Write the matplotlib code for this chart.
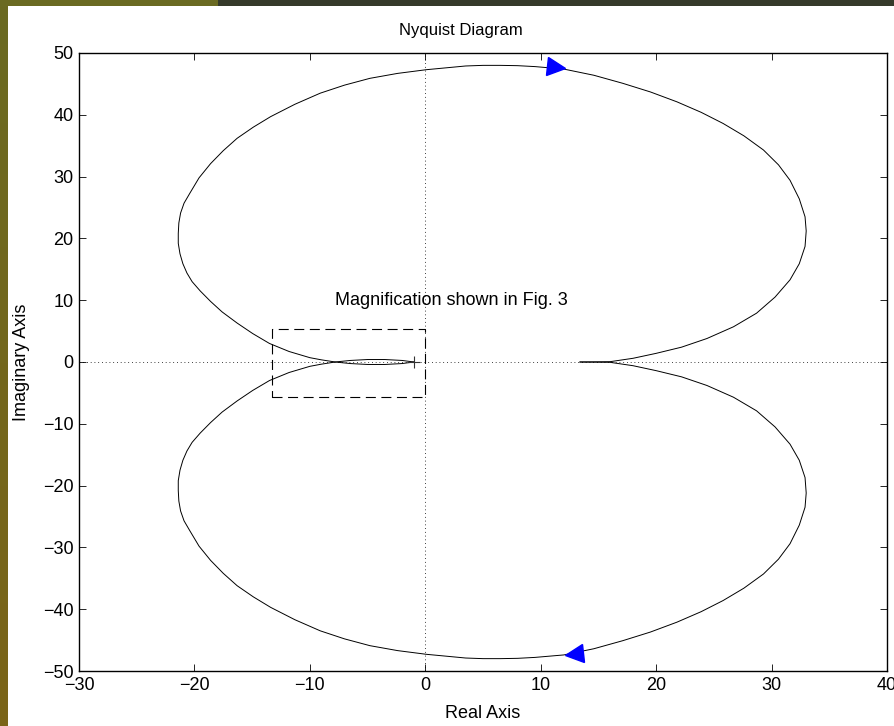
import matplotlib
matplotlib.use("Agg")
import matplotlib.pyplot as plt
from matplotlib.markers import MarkerStyle
from matplotlib.patches import Rectangle
from matplotlib.transforms import Affine2D
import numpy as np

plt.rcParams['font.family'] = ['Liberation Sans', 'DejaVu Sans']

# upper branch of the Nyquist curve, lower branch is its mirror
upper_re = [-1.0, -2.0, -3.5, -5.0, -6.5, -7.8,
            -9.0, -10.0, -11.8, -13.5, -14.95, -16.3, -17.6, -18.6, -19.5, -20.2,
            -20.65, -21.0, -21.25, -21.4, -21.4, -21.35, -21.2, -20.9, -20.4, -19.6,
            -18.6, -17.5, -16.3, -14.9, -13.4, -11.3, -9.1, -7.0, -4.8, -2.4, 0.1,
            1.8, 3.5, 5.0, 6.5, 8.0, 9.5, 12.0, 14.6, 17.1, 19.5, 21.8,
            23.9, 25.8, 27.6, 29.3, 30.6, 31.6, 32.4, 32.9, 33.0, 32.9, 32.4,
            31.6, 30.3, 28.7, 26.7, 24.4, 22.2, 20.0, 18.0, 16.0, 13.4]
upper_im = [0.0, 0.25, 0.4, 0.4, 0.25, 0.0,
            0.35, 0.7, 1.7, 3.0, 4.6, 6.3, 8.1, 9.8, 11.5, 13.0,
            14.4, 15.9, 17.5, 19.2, 20.8, 22.5, 24.1, 25.7, 27.3, 29.8,
            32.1, 34.2, 36.2, 38.0, 39.7, 41.7, 43.5, 44.8, 45.9, 46.7, 47.3,
            47.6, 47.9, 48.0, 48.0, 47.95, 47.8, 47.4, 46.4, 45.1, 43.7, 42.1,
            40.4, 38.6, 36.6, 34.3, 31.9, 29.4, 26.4, 23.5, 21.2, 18.7, 15.9,
            13.3, 10.5, 7.9, 5.7, 3.8, 2.4, 1.4, 0.6, 0.05, 0.0]

# direction arrows
arrow_re = [11.3, 12.9]
arrow_im = [47.7, -47.3]

# dashed box round the magnified region
box_re = [-13.3, 0.0]
box_im = [-5.6, 5.3]

xticks = [-30, -20, -10, 0, 10, 20, 30, 40]
yticks = [-50, -40, -30, -20, -10, 0, 10, 20, 30, 40, 50]

fig = plt.figure(figsize=(8.95, 7.26), dpi=100)
fig.patch.set_facecolor('white')

# slide decoration: left strip and top band
W, H = 895.0, 726.0
strip = np.linspace(0, 1, 100).reshape(-1, 1)
ax_bg = fig.add_axes([0, 0, 8 / W, 1])
ax_bg.imshow(np.dstack([np.interp(strip, [0, 1], [0x7b, 0x6a]) / 255,
                        np.interp(strip, [0, 1], [0x64, 0x6a]) / 255,
                        np.interp(strip, [0, 1], [0x18, 0x22]) / 255]),
             aspect='auto', extent=[0, 1, 0, 1], origin='lower')
ax_bg.set_axis_off()
fig.patches.append(Rectangle((0, 1 - 6 / H), 218 / W, 6 / H, transform=fig.transFigure,
                             facecolor='#6a6a22', edgecolor='none'))
fig.patches.append(Rectangle((218 / W, 1 - 6 / H), 1 - 218 / W, 6 / H,
                             transform=fig.transFigure, facecolor='#353a2a', edgecolor='none'))

ax = fig.add_axes([79 / W, 1 - 671 / H, 808 / W, 618 / H])

ax.axhline(0, color='black', lw=0.6, linestyle=(0, (1, 3.5)))
ax.axvline(0, color='black', lw=0.6, linestyle=(0, (1, 3.5)))

ax.plot(upper_re, upper_im, color='black', lw=0.7)
ax.plot(upper_re, [-v for v in upper_im], color='black', lw=0.7)
ax.plot([-1], [0], marker='+', color='#333333', markersize=8, mew=0.8)

ax.plot(arrow_re[0], arrow_im[0], linestyle='none', color='blue', markersize=13,
        marker=MarkerStyle('>', transform=Affine2D().rotate_deg(-6)))
ax.plot(arrow_re[1], arrow_im[1], linestyle='none', color='blue', markersize=13,
        marker=MarkerStyle('<', transform=Affine2D().rotate_deg(6)))

ax.plot([box_re[0], box_re[1], box_re[1], box_re[0], box_re[0]],
        [box_im[0], box_im[0], box_im[1], box_im[1], box_im[0]],
        color='black', lw=0.8, dashes=(9, 5))

ax.text(-7.8, 10, 'Magnification shown in Fig. 3', fontsize=13, va='center', ha='left')

ax.set_xlim(-30, 40)
ax.set_ylim(-50, 50)
ax.set_xticks(xticks)
ax.set_yticks(yticks)
ax.tick_params(direction='in', length=5, width=0.6, top=True, right=True,
               labelsize=13, pad=4)
for s in ax.spines.values():
    s.set_linewidth(1.0)

fig.text(461 / W, 1 - 30.5 / H, 'Nyquist Diagram', fontsize=12, ha='center', va='center')
fig.text(483 / W, 1 - 713 / H, 'Real Axis', fontsize=13, ha='center', va='center')
fig.text(22 / W, 1 - 362 / H, 'Imaginary Axis', fontsize=13, ha='center', va='center',
         rotation=90)

fig.savefig('out.png', dpi=100)
